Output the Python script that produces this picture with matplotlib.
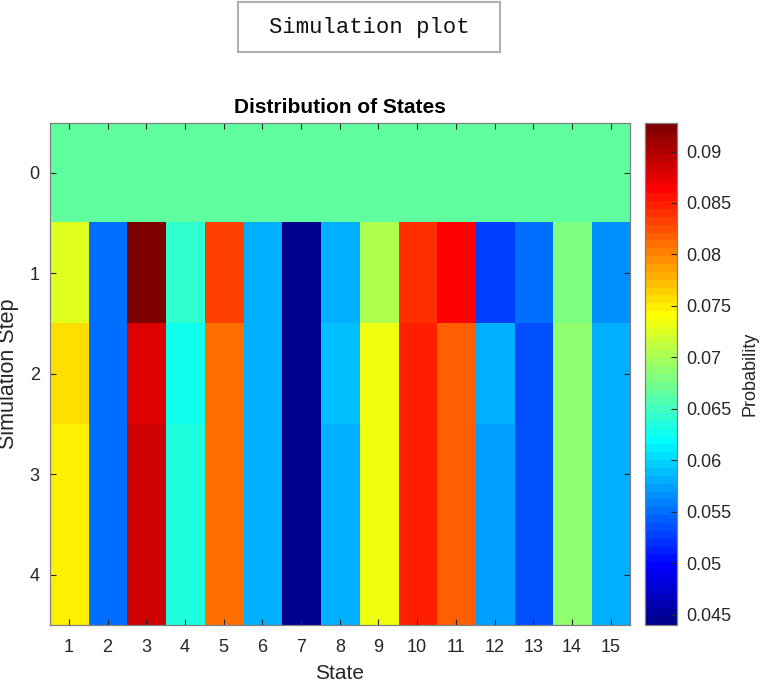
import numpy as np
import matplotlib
matplotlib.use("Agg")
import matplotlib.pyplot as plt
from matplotlib.colors import ListedColormap
from matplotlib.patches import Rectangle

plt.rcParams['font.family'] = ['Liberation Sans', 'DejaVu Sans']

# state probabilities per simulation step
states = list(range(1, 16))
steps = [0, 1, 2, 3, 4]
step0 = [1 / 15] * 15
step1 = [0.07260, 0.05506, 0.09280, 0.06421, 0.08328, 0.05811, 0.04400, 0.05811,
         0.07031, 0.08404, 0.08633, 0.05277, 0.05506, 0.06802, 0.05658]
step2 = [0.07565, 0.05506, 0.08785, 0.06268, 0.08099, 0.05811, 0.04400, 0.05887,
         0.07336, 0.08480, 0.08175, 0.05811, 0.05353, 0.06878, 0.05811]
step3 = [0.07489, 0.05506, 0.08861, 0.06344, 0.08099, 0.05811, 0.04400, 0.05811,
         0.07336, 0.08480, 0.08175, 0.05734, 0.05353, 0.06878, 0.05811]
step4 = [0.07489, 0.05506, 0.08861, 0.06344, 0.08099, 0.05811, 0.04400, 0.05811,
         0.07336, 0.08480, 0.08175, 0.05734, 0.05353, 0.06878, 0.05811]
cbar_ticks = [0.045, 0.05, 0.055, 0.06, 0.065, 0.07, 0.075, 0.08, 0.085, 0.09]


def matlab_jet(m=64):
    # same construction as MATLAB's jet(m)
    n = int(np.ceil(m / 4))
    u = np.concatenate([np.arange(1, n + 1) / n, np.ones(n - 1), np.arange(n, 0, -1) / n])
    g = int(np.ceil(n / 2)) - (1 if m % 4 == 1 else 0) + np.arange(1, len(u) + 1)
    r = g + n
    b = g - n
    J = np.zeros((m, 3))
    for col, idx in enumerate([r, g, b]):
        ok = (idx >= 1) & (idx <= m)
        J[idx[ok] - 1, col] = u[ok]
    return ListedColormap(J)


data = np.array([step0, step1, step2, step3, step4])

W, H = 762, 684
fig = plt.figure(figsize=(W / 100, H / 100), dpi=100)
ax = fig.add_axes([49.5 / W, 1 - 625 / H, 580.5 / W, 502.3 / H])
cax = fig.add_axes([645 / W, 1 - 625 / H, 32 / W, 502.3 / H])

im = ax.imshow(data, cmap=matlab_jet(64), aspect='auto', interpolation='nearest',
               extent=[0.5, 15.5, 4.5, -0.5], vmin=data.min(), vmax=data.max())

txt = '#262626'
ax.set_xticks(states)
ax.set_yticks(steps)
ax.tick_params(direction='in', top=True, right=True, labelsize=13, colors=txt,
               length=4, width=0.8)
ax.tick_params(axis='x', pad=10)
ax.tick_params(axis='y', pad=7)
for s in ax.spines.values():
    s.set_color('#808080')
    s.set_linewidth(0.9)
ax.set_title('Distribution of States', fontsize=15, fontweight='bold', pad=7, color='black')
ax.set_xlabel('State', fontsize=15, color=txt, labelpad=6)
ax.set_ylabel('Simulation Step', fontsize=15.5, color=txt)
ax.yaxis.set_label_coords(-30 / 580.5, 0.5)

cb = fig.colorbar(im, cax=cax)
cb.set_ticks(cbar_ticks)
cb.set_ticklabels([f'{t:g}' for t in cbar_ticks])
cb.ax.tick_params(direction='in', labelsize=13, colors=txt, length=4, width=0.8, pad=7)
cb.outline.set_edgecolor('#808080')
cb.outline.set_linewidth(0.9)
cb.set_label('Probability', fontsize=13, color=txt, labelpad=7)

# boxed figure title
fig.patches.append(Rectangle((238 / W, 1 - 52 / H), 262 / W, 50 / H, transform=fig.transFigure,
                             facecolor='white', edgecolor='#b0b0b0', linewidth=1.5))
fig.text(369 / W, 1 - 28 / H, 'Simulation plot', ha='center', va='center',
         fontsize=16, family=['Liberation Mono', 'DejaVu Sans Mono'], color='#111111')

fig.savefig('out.png', dpi=100, facecolor='white')
